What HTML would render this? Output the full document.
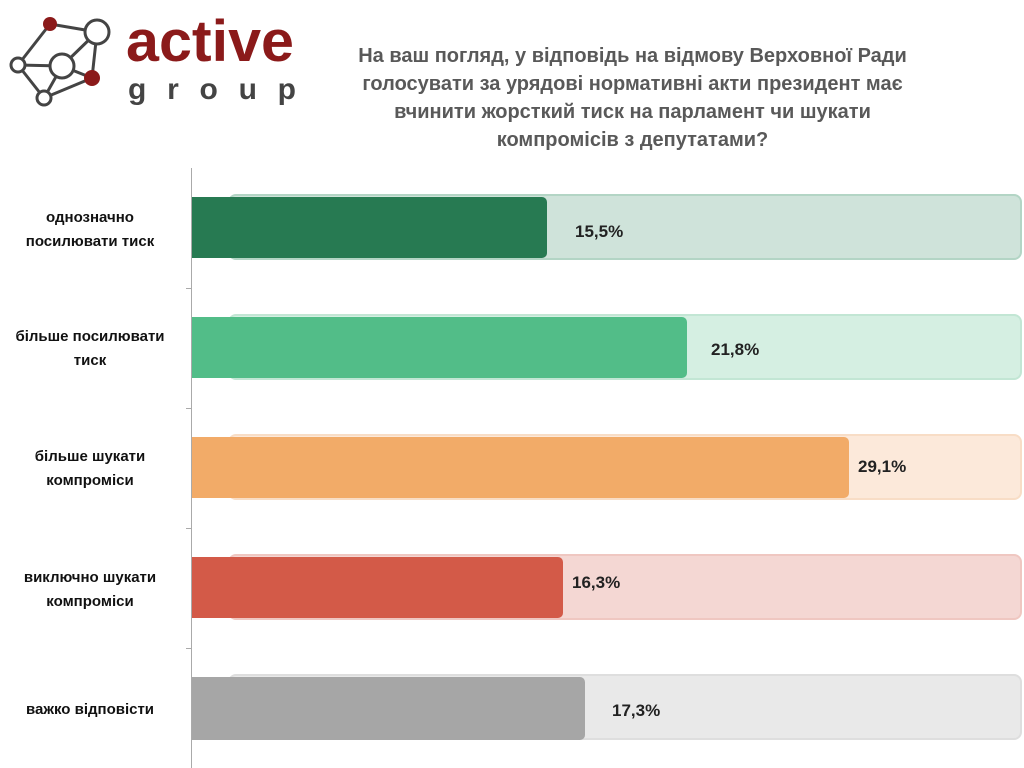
<!DOCTYPE html>
<html><head><meta charset="utf-8"><style>
body{margin:0;width:1024px;height:768px;background:#fff;position:relative;overflow:hidden;font-family:"Liberation Sans",sans-serif;}
.abs{position:absolute}
.title{left:300px;top:42px;width:665px;text-align:center;font-weight:bold;font-size:20px;line-height:28px;color:#595959;white-space:nowrap}
.cat{left:0;width:180px;text-align:center;font-weight:bold;font-size:15px;line-height:24px;color:#111}
.bg{left:228px;width:794px;height:66px;border-radius:8px;box-sizing:border-box}
.fg{left:192px;height:61px;border-radius:0 5px 5px 0}
.val{font-weight:bold;font-size:17px;color:#222}
</style></head><body>
<svg class="abs" style="left:0;top:0" width="320" height="120">
<g stroke="#444" stroke-width="3" fill="none">
<line x1="50" y1="24" x2="97" y2="32"/><line x1="50" y1="24" x2="18" y2="65"/><line x1="97" y1="32" x2="62" y2="66"/><line x1="97" y1="32" x2="92" y2="78"/>
<line x1="18" y1="65" x2="62" y2="66"/><line x1="18" y1="65" x2="44" y2="98"/><line x1="62" y1="66" x2="44" y2="98"/><line x1="44" y1="98" x2="92" y2="78"/><line x1="62" y1="66" x2="92" y2="78"/>
</g>
<circle cx="50" cy="24" r="7" fill="#8b1a1a"/><circle cx="92" cy="78" r="8" fill="#8b1a1a"/>
<circle cx="97" cy="32" r="12" fill="#fff" stroke="#444" stroke-width="3"/>
<circle cx="62" cy="66" r="12" fill="#fff" stroke="#444" stroke-width="3"/>
<circle cx="18" cy="65" r="7" fill="#fff" stroke="#444" stroke-width="3"/>
<circle cx="44" cy="98" r="7" fill="#fff" stroke="#444" stroke-width="3"/>
<text x="126" y="61" font-family="Liberation Sans" font-weight="bold" font-size="58" fill="#8b1a1a" textLength="168" lengthAdjust="spacingAndGlyphs">active</text>
<text x="128" y="99" font-family="Liberation Sans" font-weight="bold" font-size="30" fill="#444" textLength="168" lengthAdjust="spacing">group</text>
</svg>
<div class="abs title">На ваш погляд, у відповідь на відмову Верховної Ради<br>голосувати за урядові нормативні акти президент має<br>вчинити жорсткий тиск на парламент чи шукати<br>компромісів з депутатами?</div>
<div class="abs" style="left:191px;top:168px;width:1px;height:600px;background:#aaa"></div>
<div class="abs" style="left:186px;top:288px;width:6px;height:1px;background:#aaa"></div>
<div class="abs" style="left:186px;top:408px;width:6px;height:1px;background:#aaa"></div>
<div class="abs" style="left:186px;top:528px;width:6px;height:1px;background:#aaa"></div>
<div class="abs" style="left:186px;top:648px;width:6px;height:1px;background:#aaa"></div>

<div class="abs bg" style="top:194px;background:#cfe3da;border:2px solid #b3d5c5"></div>
<div class="abs fg" style="top:197px;width:355px;background:#277a52"></div>
<div class="abs val" style="left:575px;top:222px">15,5%</div>
<div class="abs cat" style="top:206px">однозначно<br>посилювати тиск</div>

<div class="abs bg" style="top:314px;background:#d5efe2;border:2px solid #c2e6d4"></div>
<div class="abs fg" style="top:317px;width:495px;background:#52bd88"></div>
<div class="abs val" style="left:711px;top:340px">21,8%</div>
<div class="abs cat" style="top:325px">більше посилювати<br>тиск</div>

<div class="abs bg" style="top:434px;background:#fce9da;border:2px solid #f8ddc6"></div>
<div class="abs fg" style="top:437px;width:657px;background:#f2ab68"></div>
<div class="abs val" style="left:858px;top:457px">29,1%</div>
<div class="abs cat" style="top:445px">більше шукати<br>компроміси</div>

<div class="abs bg" style="top:554px;background:#f4d7d3;border:2px solid #efc7c1"></div>
<div class="abs fg" style="top:557px;width:371px;background:#d35a48"></div>
<div class="abs val" style="left:572px;top:573px">16,3%</div>
<div class="abs cat" style="top:566px">виключно шукати<br>компроміси</div>

<div class="abs bg" style="top:674px;background:#e9e9e9;border:2px solid #dedede"></div>
<div class="abs fg" style="top:677px;width:393px;height:63px;background:#a6a6a6"></div>
<div class="abs val" style="left:612px;top:701px">17,3%</div>
<div class="abs cat" style="top:698px">важко відповісти</div>
</body></html>
